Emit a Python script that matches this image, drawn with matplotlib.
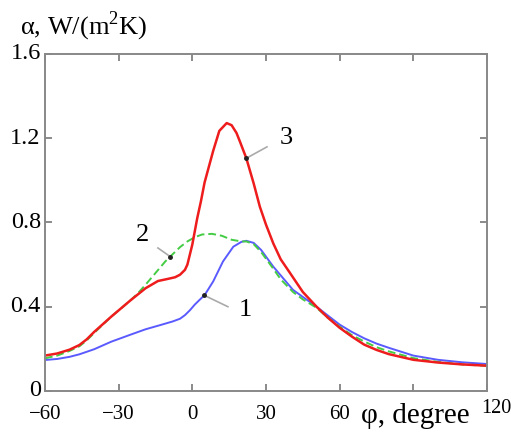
import numpy as np
import matplotlib
matplotlib.use('Agg')
import matplotlib.pyplot as plt
from matplotlib.transforms import ScaledTranslation

plt.rcParams['font.family'] = 'Liberation Serif'
plt.rcParams['mathtext.fontset'] = 'custom'
plt.rcParams['mathtext.rm'] = 'Liberation Serif'

# curve 1 (blue)
x1 = [-60, -55, -50, -46, -40, -33, -25, -19, -13, -8, -5, -3, -1, 1, 3, 5, 8.5,
      12.5, 16.7, 20, 22, 25, 28, 33, 41, 50.6, 55, 60, 65, 70, 75, 80, 90, 100,
      110, 120]
y1 = [0.147, 0.152, 0.162, 0.174, 0.198, 0.234, 0.268, 0.293, 0.313, 0.33, 0.343,
      0.36, 0.383, 0.41, 0.433, 0.455, 0.52, 0.615, 0.685, 0.708, 0.713, 0.703,
      0.67, 0.59, 0.48, 0.40, 0.36, 0.315, 0.28, 0.25, 0.225, 0.205, 0.168, 0.148,
      0.136, 0.128]

# curve 2 (green, dashed)
x2 = [-60, -55, -50, -46, -43, -40, -33, -25, -22, -19, -15, -11, -9, -5, -2, 1, 4,
      8, 12, 16, 20, 22, 25, 28, 33, 36, 41, 45, 50.6, 55, 60, 65, 70, 75, 80, 90,
      100, 110, 120]
y2 = [0.155, 0.168, 0.19, 0.212, 0.24, 0.275, 0.353, 0.432, 0.466, 0.505, 0.56,
      0.615, 0.638, 0.683, 0.71, 0.73, 0.743, 0.746, 0.737, 0.718, 0.71, 0.71,
      0.697, 0.66, 0.58, 0.53, 0.47, 0.435, 0.395, 0.35, 0.305, 0.265, 0.235,
      0.208, 0.188, 0.156, 0.138, 0.126, 0.119]

# curve 3 (red)
x3 = [-60, -55, -50, -46, -43, -40, -33, -25, -19, -14, -10, -7, -5, -3, -2, 0, 2,
      3.5, 5, 8.5, 11, 14, 16, 18, 19.4, 22, 25, 27.5, 30, 33, 36, 39.8, 45, 50.6,
      55, 60, 65, 70, 75, 80, 90, 100, 110, 120]
y3 = [0.168, 0.178, 0.196, 0.218, 0.245, 0.28, 0.353, 0.432, 0.488, 0.522, 0.532,
      0.54, 0.552, 0.575, 0.6, 0.695, 0.82, 0.9, 0.99, 1.14, 1.235, 1.272, 1.262,
      1.225, 1.184, 1.105, 0.985, 0.875, 0.79, 0.70, 0.625, 0.56, 0.47, 0.40, 0.35,
      0.30, 0.258, 0.22, 0.195, 0.175, 0.148, 0.135, 0.126, 0.12]

# curve labels: marker x on the curve, text position, leader line end
labels = ['1', '2', '3']
mark_x = [4.9, -9.0, 22.0]
text_xy = [(21.4, 0.385), (-20.2, 0.741), (38.1, 1.20)]
lead_xy = [(14.5, 0.40), (-14.0, 0.679), (30.4, 1.159)]

xticks = [-60, -30, 0, 30, 60, 90, 120]
xticklabels = ['\u221260', '\u221230', '0', '30', '60', '', '']
yticks = [0, 0.4, 0.8, 1.2, 1.6]
yticklabels = ['0', '0.4', '0.8', '1.2', '1.6']

fig = plt.figure(figsize=(5.11, 4.32), dpi=100)
ax = fig.add_axes([0.088, 0.095, 0.865, 0.78])

ax.plot(x1, y1, color='#5a5aff', lw=1.4)
ax.plot(x2, y2, color='#44cc44', lw=1.4, ls=(0, (4, 2)))
ax.plot(x3, y3, color='#ee1c1c', lw=1.8)

curves = [(x1, y1), (x2, y2), (x3, y3)]
for lab, mx, (tx, ty), (lx, ly), (cx, cy) in zip(labels, mark_x, text_xy, lead_xy, curves):
    my = np.interp(mx, cx, cy)
    ax.plot([mx, lx], [my, ly], color='#aaaaaa', lw=1.2)
    ax.plot(mx, my, 'o', color='#222222', ms=2.5)
    ax.text(tx, ty, lab, fontsize=19, ha='center', va='center')

ax.set_xlim(-60, 120)
ax.set_ylim(0, 1.6)
ax.set_xticks(xticks)
ax.set_xticklabels(xticklabels, fontsize=15)
ax.set_yticks(yticks)
ax.set_yticklabels(yticklabels, fontsize=17.5)
ax.tick_params(direction='in', length=5, width=1.2, color='#777777',
               top=True, right=True)
ax.tick_params(axis='x', pad=10)
ax.tick_params(axis='y', pad=3)
for lbl in ax.get_yticklabels():
    lbl.set_transform(lbl.get_transform() + ScaledTranslation(0, 2.5 / 100, fig.dpi_scale_trans))
for s in ax.spines.values():
    s.set_color('#888888')
    s.set_linewidth(1.4)

ax.text(117.5, -0.082, '120', fontsize=14.5, ha='left', va='center', clip_on=False)
ax.text(0.837, -0.073, '\u03c6, degree', fontsize=21, ha='center', va='center',
        transform=ax.transAxes)
fig.text(0.039, 0.94, '\u03b1, W/(m$^2$K)', fontsize=19, ha='left', va='center')

plt.savefig('out.png', dpi=100)
